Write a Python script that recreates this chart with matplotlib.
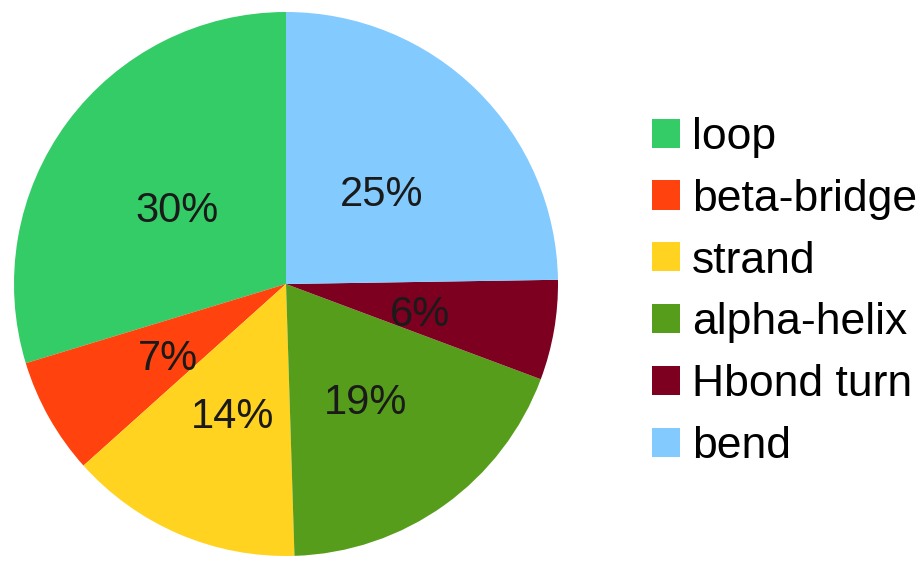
import matplotlib
matplotlib.use("Agg")
import matplotlib.pyplot as plt
from matplotlib.patches import Patch
import numpy as np

plt.rcParams['font.family'] = ['Liberation Sans', 'DejaVu Sans']

# Secondary structure composition
labels = ["loop", "beta-bridge", "strand", "alpha-helix", "Hbond turn", "bend"]
percents = [30, 7, 14, 19, 6, 25]
colors = ["#33cc66", "#ff420e", "#ffd320", "#579d1c", "#7e0021", "#83caff"]

fig = plt.figure(figsize=(9.24, 5.62), dpi=100)
ax = fig.add_axes([14 / 924, 6 / 562, 544 / 924, 544 / 562])

wedges, _ = ax.pie(percents, colors=colors, startangle=90, counterclock=True,
                   radius=1.0, wedgeprops=dict(linewidth=0))

# percentage labels halfway out along each wedge
total = sum(percents)
angle = 90.0
for w, p in zip(wedges, percents):
    span = 360.0 * p / total
    mid = np.deg2rad(angle + span / 2)
    ax.text(0.5 * np.cos(mid), 0.5 * np.sin(mid) - 0.03, f"{p}%",
            ha="center", va="center", fontsize=30, color="#1a1a1a")
    angle += span

ax.set_xlim(-1, 1)
ax.set_ylim(-1, 1)
ax.set_aspect("equal")
ax.axis("off")

handles = [Patch(facecolor=c, edgecolor="none", label=l) for c, l in zip(colors, labels)]
fig.legend(handles=handles, loc="center left", bbox_to_anchor=(652 / 924, 1 - 292 / 562),
           frameon=False, fontsize=32, handlelength=0.63, handleheight=0.63,
           handletextpad=0.27, labelspacing=0.47, borderpad=0, borderaxespad=0)

fig.savefig("out.png", dpi=100)
